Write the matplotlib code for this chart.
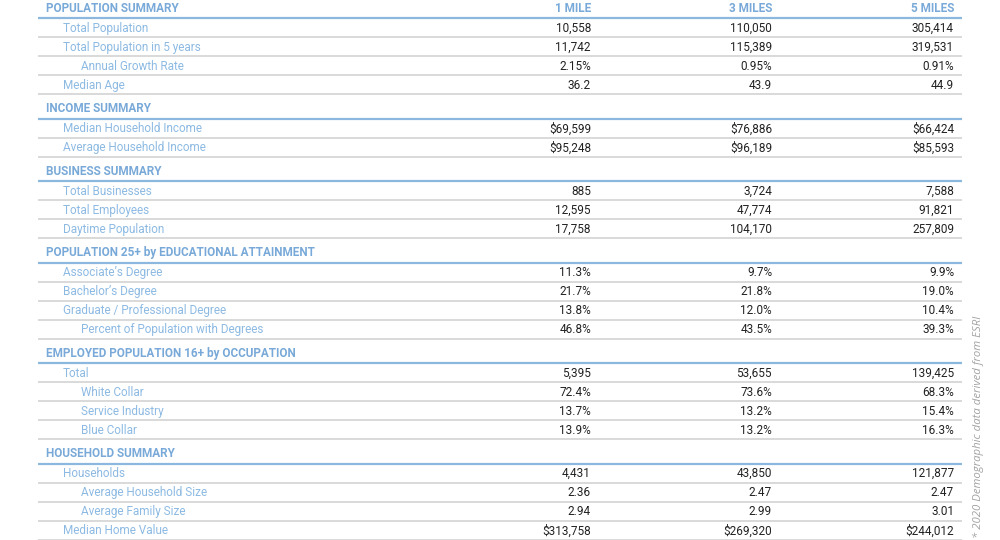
import matplotlib.pyplot as plt

plt.rcParams['font.family'] = ['Roboto', 'DejaVu Sans']

# columns
columns = ['1 MILE', '3 MILES', '5 MILES']

# sections: (title, [(label, indent, values)])
population = [
    ('Total Population', 1, ['10,558', '110,050', '305,414']),
    ('Total Population in 5 years', 1, ['11,742', '115,389', '319,531']),
    ('Annual Growth Rate', 2, ['2.15%', '0.95%', '0.91%']),
    ('Median Age', 1, ['36.2', '43.9', '44.9']),
]
income = [
    ('Median Household Income', 1, ['$69,599', '$76,886', '$66,424']),
    ('Average Household Income', 1, ['$95,248', '$96,189', '$85,593']),
]
business = [
    ('Total Businesses', 1, ['885', '3,724', '7,588']),
    ('Total Employees', 1, ['12,595', '47,774', '91,821']),
    ('Daytime Population', 1, ['17,758', '104,170', '257,809']),
]
education = [
    ('Associate\u2019s Degree', 1, ['11.3%', '9.7%', '9.9%']),
    ('Bachelor\u2019s Degree', 1, ['21.7%', '21.8%', '19.0%']),
    ('Graduate / Professional Degree', 1, ['13.8%', '12.0%', '10.4%']),
    ('Percent of Population with Degrees', 2, ['46.8%', '43.5%', '39.3%']),
]
occupation = [
    ('Total', 1, ['5,395', '53,655', '139,425']),
    ('White Collar', 2, ['72.4%', '73.6%', '68.3%']),
    ('Service Industry', 2, ['13.7%', '13.2%', '15.4%']),
    ('Blue Collar', 2, ['13.9%', '13.2%', '16.3%']),
]
household = [
    ('Households', 1, ['4,431', '43,850', '121,877']),
    ('Average Household Size', 2, ['2.36', '2.47', '2.47']),
    ('Average Family Size', 2, ['2.94', '2.99', '3.01']),
    ('Median Home Value', 1, ['$313,758', '$269,320', '$244,012']),
]

sections = [
    ('POPULATION SUMMARY', population),
    ('INCOME SUMMARY', income),
    ('BUSINESS SUMMARY', business),
    ('POPULATION 25+ by EDUCATIONAL ATTAINMENT', education),
    ('EMPLOYED POPULATION 16+ by OCCUPATION', occupation),
    ('HOUSEHOLD SUMMARY', household),
]

footnote = '* 2020 Demographic data derived from ESRI'

head_color = '#78a9d8'
label_color = '#8dbae3'
value_color = '#222222'
blue_line = '#8cb8e0'
gray_line = '#d3d3d3'

fig = plt.figure(figsize=(10, 5.4), dpi=100)
ax = fig.add_axes([0, 0, 1, 1])
ax.set_xlim(0, 1000)
ax.set_ylim(540, 0)
ax.axis('off')

x_left, x_right = 38, 962
indent_x = {0: 46, 1: 63, 2: 81}
col_x = [591, 772, 954]
pitch = 19.0
gap = 24.5
fs = 8.5

y_line = 18.2
for si, (title, rows) in enumerate(sections):
    ax.text(indent_x[0], y_line - 10, title, color=head_color, fontsize=fs,
            fontweight='bold', va='center', ha='left')
    if si == 0:
        for cx, c in zip(col_x, columns):
            ax.text(cx, y_line - 10, c, color=head_color, fontsize=fs,
                    fontweight='bold', va='center', ha='right')
    ax.plot([x_left, x_right], [y_line, y_line], color=blue_line, lw=1.6,
            solid_capstyle='butt')
    y = y_line
    for label, lvl, vals in rows:
        yc = y + pitch / 2 + 0.5
        ax.text(indent_x[lvl], yc, label, color=label_color, fontsize=fs,
                va='center', ha='left')
        for cx, v in zip(col_x, vals):
            ax.text(cx, yc, v, color=value_color, fontsize=fs,
                    va='center', ha='right')
        y += pitch
        ax.plot([x_left, x_right], [y, y], color=gray_line, lw=1.2,
                solid_capstyle='butt')
    y_line = y + gap

ax.text(978, 538, footnote, color='#a3a3a3', fontsize=8.2, style='italic',
        family=['Open Sans', 'DejaVu Sans'],
        rotation=90, va='bottom', ha='center')

fig.savefig('out.png', dpi=100)
